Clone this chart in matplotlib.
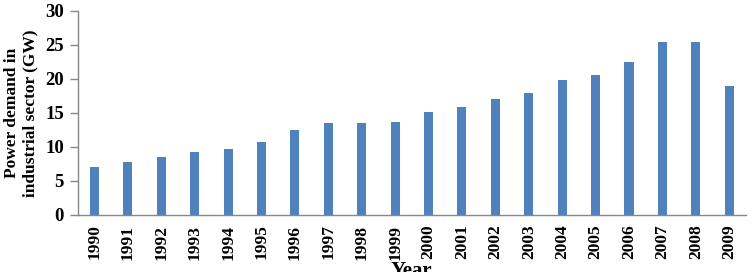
import matplotlib
matplotlib.use('Agg')
import matplotlib.pyplot as plt
import numpy as np

years = ['1990', '1991', '1992', '1993', '1994', '1995', '1996', '1997', '1998', '1999',
         '2000', '2001', '2002', '2003', '2004', '2005', '2006', '2007', '2008', '2009']
demand_gw = [7.0, 7.8, 8.5, 9.3, 9.7, 10.7, 12.5, 13.5, 13.5, 13.6,
             15.1, 15.8, 17.1, 17.9, 19.9, 20.5, 22.5, 25.4, 25.4, 19.0]
yticks = [0, 5, 10, 15, 20, 25, 30]

plt.rcParams['font.family'] = 'Liberation Serif'
plt.rcParams['font.weight'] = 'bold'

fig = plt.figure(figsize=(7.55, 2.72), dpi=100)
ax = fig.add_axes([0.103, 0.21, 0.885, 0.75])

x = np.arange(len(years))
ax.bar(x, demand_gw, width=0.27, color='#4F81BD')

ax.set_xlim(-0.5, len(years) - 0.5)
ax.set_ylim(0, 30)
ax.set_yticks(yticks)
ax.set_yticklabels([str(t) for t in yticks], fontsize=13.5, fontweight='bold')
ax.set_xticks(x)
ax.set_xticklabels(years, rotation=90, fontsize=12.5, fontweight='bold')
ax.tick_params(axis='x', length=0, pad=7)
ax.tick_params(axis='y', length=6, width=1, color='#888888', pad=4)

for s in ['top', 'right']:
    ax.spines[s].set_visible(False)
for s in ['left', 'bottom']:
    ax.spines[s].set_color('#888888')
    ax.spines[s].set_linewidth(1)

ax.set_ylabel('Power demand in\nindustrial sector (GW)', fontsize=12.5,
              fontweight='bold', linespacing=1.2, labelpad=5)
ax.set_xlabel('Year', fontsize=15, fontweight='bold', labelpad=1)

fig.savefig('out.png', dpi=100)
